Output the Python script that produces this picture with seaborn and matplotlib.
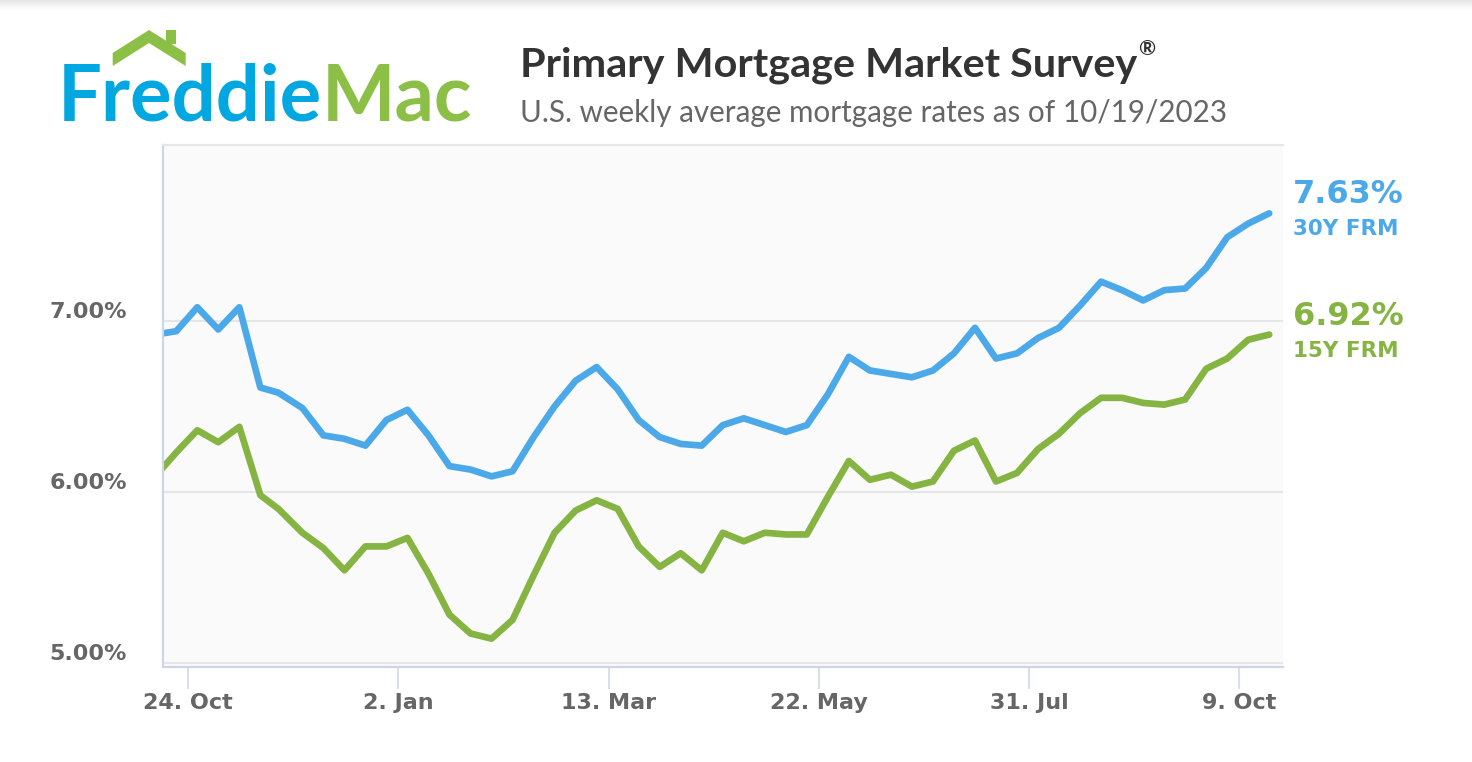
import matplotlib
matplotlib.use("Agg")
import matplotlib.pyplot as plt
from matplotlib.patches import Polygon, Rectangle
from matplotlib.transforms import ScaledTranslation
import numpy as np
import seaborn as sns
import pandas as pd

# ---------------- data ----------------
dates = [
    "2022-10-13", "2022-10-20", "2022-10-27", "2022-11-03", "2022-11-10", "2022-11-17",
    "2022-11-23", "2022-12-01", "2022-12-08", "2022-12-15", "2022-12-22", "2022-12-29",
    "2023-01-05", "2023-01-12", "2023-01-19", "2023-01-26", "2023-02-02", "2023-02-09",
    "2023-02-16", "2023-02-23", "2023-03-02", "2023-03-09", "2023-03-16", "2023-03-23",
    "2023-03-30", "2023-04-06", "2023-04-13", "2023-04-20", "2023-04-27", "2023-05-04",
    "2023-05-11", "2023-05-18", "2023-05-25", "2023-06-01", "2023-06-08", "2023-06-15",
    "2023-06-22", "2023-06-29", "2023-07-06", "2023-07-13", "2023-07-20", "2023-07-27",
    "2023-08-03", "2023-08-10", "2023-08-17", "2023-08-24", "2023-08-31", "2023-09-07",
    "2023-09-14", "2023-09-21", "2023-09-28", "2023-10-05", "2023-10-12", "2023-10-19",
]
rate_30y = [
    6.92, 6.94, 7.08, 6.95, 7.08, 6.61, 6.58, 6.49, 6.33, 6.31, 6.27, 6.42,
    6.48, 6.33, 6.15, 6.13, 6.09, 6.12, 6.32, 6.50, 6.65, 6.73, 6.60, 6.42, 6.32,
    6.28, 6.27, 6.39, 6.43, 6.39, 6.35, 6.39, 6.57, 6.79, 6.71, 6.69, 6.67, 6.71,
    6.81, 6.96, 6.78, 6.81, 6.90, 6.96, 7.09, 7.23, 7.18, 7.12, 7.18, 7.19, 7.31,
    7.49, 7.57, 7.63,
]
rate_15y = [
    6.09, 6.23, 6.36, 6.29, 6.38, 5.98, 5.90, 5.76, 5.67, 5.54, 5.68, 5.68,
    5.73, 5.52, 5.28, 5.17, 5.14, 5.25, 5.51, 5.76, 5.89, 5.95, 5.90, 5.68, 5.56,
    5.64, 5.54, 5.76, 5.71, 5.76, 5.75, 5.75, 5.97, 6.18, 6.07, 6.10, 6.03, 6.06,
    6.24, 6.30, 6.06, 6.11, 6.25, 6.34, 6.46, 6.55, 6.55, 6.52, 6.51, 6.54, 6.72,
    6.78, 6.89, 6.92,
]
series_names = ["30Y FRM", "15Y FRM"]
x_tick_dates = ["2022-10-24", "2023-01-02", "2023-03-13", "2023-05-22", "2023-07-31", "2023-10-09"]
y_ticks = [5.0, 6.0, 7.0]

BLUE = "#4ca9e9"
GREEN = "#86b443"
palette = {"30Y FRM": BLUE, "15Y FRM": GREEN}

df = pd.DataFrame({
    "date": pd.to_datetime(dates * 2),
    "rate": rate_30y + rate_15y,
    "series": [series_names[0]] * len(dates) + [series_names[1]] * len(dates),
})

# ---------------- figure ----------------
W, H = 1472, 762
fig = plt.figure(figsize=(W / 100, H / 100), dpi=100)
fig.patch.set_facecolor("white")

ax = fig.add_axes([163 / W, 1 - 667 / H, (1283 - 163) / W, (667 - 145) / H])
ax.set_facecolor("#fafafa")

sns.lineplot(data=df, x="date", y="rate", hue="series", palette=palette,
             linewidth=4.8, ax=ax, legend=False, sort=False)
for ln in ax.get_lines():
    ln.set_solid_capstyle("round")
    ln.set_solid_joinstyle("round")

ax.set_xlim(pd.Timestamp("2022-10-15 14:00"), pd.Timestamp("2023-10-23 14:00"))
ax.set_ylim(4.974, 8.03)

xt = pd.to_datetime(x_tick_dates)
ax.set_xticks(xt)
ax.set_xticklabels([f"{d.day}. {d.strftime('%b')}" for d in xt],
                   fontsize=16, fontweight="bold", color="#666666", family="DejaVu Sans")
ax.set_yticks(y_ticks)
ax.set_yticklabels([f"{v:.2f}%" for v in y_ticks],
                   fontsize=16, fontweight="bold", color="#666666", family="DejaVu Sans")
ax.set_xlabel("")
ax.set_ylabel("")

ax.tick_params(axis="x", length=15.8, width=1.1, color="#ccd6eb", pad=3)
ax.tick_params(axis="y", length=0, pad=26)
off = ScaledTranslation(0, 11 / 100, fig.dpi_scale_trans)
for lab in ax.get_yticklabels():
    lab.set_transform(lab.get_transform() + off)

ax.yaxis.grid(True, color="#e6e6e6", linewidth=1.5)
ax.xaxis.grid(False)
ax.set_axisbelow(True)
for s in ["left", "bottom"]:
    ax.spines[s].set_color("#ccd6eb")
    ax.spines[s].set_linewidth(1.6)
ax.spines["top"].set_color("#e6e6e6")
ax.spines["top"].set_linewidth(1.6)
ax.spines["right"].set_visible(False)

# end-of-line labels
last_date = pd.to_datetime(dates[-1])
for name, vals in zip(series_names, [rate_30y, rate_15y]):
    c = palette[name]
    ax.annotate(f"{vals[-1]:.2f}%", xy=(last_date, vals[-1]), xytext=(24, 10),
                textcoords="offset pixels", va="baseline", ha="left",
                fontsize=23, fontweight="bold", color=c, family="DejaVu Sans",
                annotation_clip=False)
    ax.annotate(name, xy=(last_date, vals[-1]), xytext=(24, -22),
                textcoords="offset pixels", va="baseline", ha="left",
                fontsize=15.5, fontweight="bold", color=c, family="DejaVu Sans",
                annotation_clip=False)

# ---------------- header (logo + titles) ----------------
ov = fig.add_axes([0, 0, 1, 1], zorder=-5)
ov.set_xlim(0, W)
ov.set_ylim(H, 0)
ov.axis("off")

# faint shadow along the top edge
grad = np.linspace(0.90, 1.0, 12).reshape(-1, 1) * np.ones((1, 2))
ov.imshow(grad, cmap="gray", vmin=0, vmax=1, extent=(0, W, 10, 0), aspect="auto",
          interpolation="bilinear")
ov.set_xlim(0, W)
ov.set_ylim(H, 0)

LOGO_BLUE = "#00a7e1"
LOGO_GREEN = "#8cbf45"
ov.text(58, 120.7, "Freddie", fontsize=56, fontweight="bold", family="Lato",
        color=LOGO_BLUE, va="baseline", ha="left")
ov.text(322, 120.7, "Mac", fontsize=56, fontweight="bold", family="Lato",
        color=LOGO_GREEN, va="baseline", ha="left")
roof = Polygon([(112.7, 53), (149, 30), (185.7, 53), (185.7, 66), (149, 43), (112.7, 66)],
               closed=True, facecolor=LOGO_GREEN, edgecolor="none")
ov.add_patch(roof)
ov.add_patch(Rectangle((165.7, 30), 10, 14, facecolor=LOGO_GREEN, edgecolor="none"))

title = ov.text(520, 76, "Primary Mortgage Market Survey", fontsize=29.8, fontweight="bold",
                family="Lato", color="#333333", va="baseline", ha="left")
fig.canvas.draw()
bb = title.get_window_extent(fig.canvas.get_renderer())
tx, _ = ov.transData.inverted().transform((bb.x1, bb.y1))
ov.text(tx + 1, 55, "®", fontsize=15, family="Lato", fontweight="bold",
        color="#333333", va="baseline", ha="left")
ov.text(520, 122, "U.S. weekly average mortgage rates as of 10/19/2023", fontsize=21.3,
        family="Lato", color="#666666", va="baseline", ha="left")

fig.savefig("out.png", dpi=100, facecolor="white")
